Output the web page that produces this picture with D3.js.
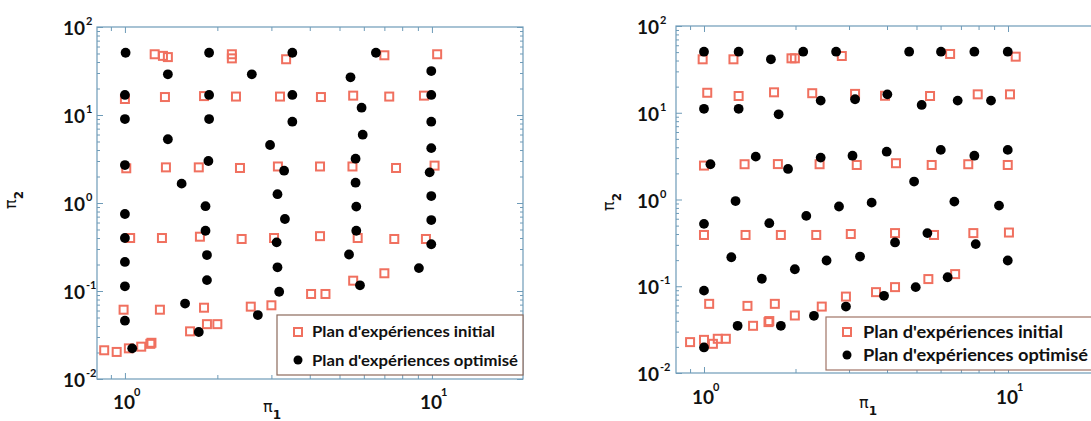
<!DOCTYPE html>
<html>
<head>
<meta charset="utf-8">
<script src="https://cdn.jsdelivr.net/npm/d3@7"></script>
<style>
  html, body { margin: 0; padding: 0; background: #fff; }
  svg { display: block; }
</style>
</head>
<body>
<script>
// ---------------- DATA ----------------
const xMajorTicks = [1, 10];
const yMajorTicks = [0.01, 0.1, 1, 10, 100];
const xTickExp = ["0", "1"];
const yTickExp = ["-2", "-1", "0", "1", "2"];
const legendLabels = ["Plan d'expériences initial", "Plan d'expériences optimisé"];
const axisLabelX = ["π", "1"];
const axisLabelY = ["π", "2"];

// left panel – initial design (squares)
const leftInitial = [
  [1.25,49],[1.33,47],[1.38,45.5],[2.23,49],[2.23,44],[3.35,43],[7.0,47.7],[10.4,49],
  [1.0,15.2],[1.35,16],[1.81,16.4],[2.30,16.2],[3.2,16.2],[4.35,16],[5.54,16.6],[7.26,16.2],[9.42,16.6],
  [1.01,2.48],[1.36,2.54],[1.74,2.54],[2.37,2.5],[3.15,2.6],[4.32,2.6],[5.51,2.6],[7.64,2.5],[10.2,2.66],
  [1.04,0.40],[1.32,0.40],[1.755,0.414],[2.4,0.39],[3.06,0.40],[4.32,0.42],[5.73,0.40],[7.54,0.39],[9.56,0.39],
  [0.99,0.0613],[1.30,0.0613],[1.81,0.0646],[2.57,0.0664],[3.0,0.0688],[4.04,0.0925],[4.5,0.0925],[5.54,0.131],[7.0,0.159],
  [1.63,0.0348],[1.85,0.042],[2.0,0.042],
  [0.856,0.0212],[0.94,0.0203],[1.03,0.0223],[1.13,0.0233],[1.22,0.0258],[1.21,0.0251]
];
// left panel – optimised design (dots)
const leftOptim = [
  [1.005,51],[1.38,29],[1.88,51],[2.59,29],[3.51,51],[6.57,51],[9.95,31.6],[5.43,26.8],
  [1.0,16.9],[1.88,16.9],[3.51,16.9],[9.95,16.9],[5.90,12.1],
  [1.0,9.0],[1.88,9.0],[3.51,8.4],[9.95,8.4],[1.38,5.3],[2.97,4.56],[5.95,5.97],[9.95,4.2],
  [1.0,2.7],[1.87,3.0],[3.30,2.33],[5.64,3.19],[9.83,2.23],
  [1.53,1.66],[3.14,1.26],[5.64,1.70],[9.95,1.2],
  [1.83,0.92],[5.67,0.91],[1.0,0.75],[3.32,0.658],[9.95,0.64],[1.83,0.484],[5.67,0.484],
  [1.0,0.40],[3.12,0.357],[9.95,0.34],[1.85,0.256],[5.37,0.26],[1.0,0.214],[3.14,0.186],[9.07,0.182],
  [1.85,0.133],[5.83,0.116],[1.0,0.113],[3.18,0.098],[1.57,0.072],
  [1.0,0.046],[2.71,0.0533],[1.74,0.0342],[1.056,0.0223]
];
// right panel – initial design (squares)
const rightInitial = [
  [0.99,41.3],[1.25,41.3],[1.94,42.4],[1.99,42.4],[2.84,45.1],[6.45,47.6],[10.6,44.3],
  [1.025,17.0],[1.30,15.6],[1.70,17.2],[2.27,16.8],[3.14,16.5],[3.94,15.7],[5.54,15.6],[7.95,16.3],[10.15,16.3],
  [1.0,2.46],[1.36,2.55],[1.75,2.56],[2.40,2.55],[3.18,2.5],[4.28,2.62],[5.61,2.5],[7.4,2.55],[9.98,2.5],
  [1.0,0.39],[1.37,0.39],[1.79,0.39],[2.34,0.39],[3.04,0.40],[4.25,0.41],[5.71,0.39],[7.69,0.41],[10.07,0.416],
  [1.04,0.0627],[1.39,0.0594],[1.71,0.0627],[2.44,0.0583],[1.99,0.046],[1.45,0.035],[1.63,0.0386],[1.64,0.0397],
  [0.90,0.0227],[1.0,0.0241],[1.07,0.0217],[1.11,0.0248],[1.18,0.0248],
  [2.93,0.076],[3.68,0.0855],[4.25,0.0977],[5.47,0.121],[6.7,0.138]
];
// right panel – optimised design (dots)
const rightOptim = [
  [1.0,50.6],[1.30,50.6],[1.66,41.3],[2.12,50.6],[2.72,50.6],[4.73,50.6],[6.02,50.6],[7.75,50.6],[9.98,50.6],
  [1.0,11.1],[1.30,11.1],[1.76,9.6],[2.42,13.8],[3.14,14.3],[4.01,16.3],[5.2,12.3],[6.83,13.8],[8.79,13.8],
  [1.05,2.55],[1.48,3.12],[1.89,2.25],[2.42,3.04],[3.08,3.2],[3.99,3.56],[6.01,3.73],[7.75,3.2],[9.98,3.73],
  [4.91,1.61],[1.27,0.96],[2.78,0.83],[3.56,0.92],[6.66,0.946],[9.34,0.85],
  [1.0,0.524],[1.64,0.533],[2.17,0.647],[4.25,0.32],[5.43,0.41],[7.83,0.306],
  [1.23,0.216],[2.53,0.198],[3.26,0.22],[9.98,0.198],
  [1.55,0.122],[1.99,0.157],[6.33,0.127],[1.0,0.089],[4.97,0.0977],[3.91,0.0776],[2.93,0.0583],
  [1.29,0.035],[1.79,0.035],[2.30,0.0456],[1.0,0.0197]
];

// ---------------- STYLE / LAYOUT ----------------
const W = 1091, H = 421;
const frameColor = "#6e9bb8";
const squareColor = "#f0705f";
const dotColor = "#000000";
const font = "Lato, 'Open Sans', 'DejaVu Sans', sans-serif";

const panels = [
  { box: [97, 523, 27, 379], xDom: [0.811, 19.8], init: leftInitial, opt: leftOptim,
    yLabelRight: 85, xLabelBase: 409,
    piX: [272, 412], piY: [16, 200],
    legend: { x0: 277, x1: 523, y0: 315, y1: 375, mx: 298, my: [332, 360], tx: 312, ty: [337, 366], tl: [183, 206], fs: 16, stroke: "#8c6a5c" } },
  { box: [676, 1100, 26, 373], xDom: [0.809, 20.07], init: rightInitial, opt: rightOptim,
    yLabelRight: 659, xLabelBase: 404,
    piX: [868, 408], piY: [614, 202],
    legend: { x0: 826, x1: 1100, y0: 317, y1: 370, mx: 847, my: [332, 355], tx: 863, ty: [338, 361], tl: [200, 225], fs: 17, stroke: "#a07466" } }
];

const svg = d3.select("body").append("svg")
  .attr("width", W).attr("height", H)
  .attr("viewBox", `0 0 ${W} ${H}`);

function minorTicks(lo, hi) {
  const out = [];
  for (let e = -3; e <= 2; e++) {
    for (let m = 1; m <= 9; m++) {
      const v = m * Math.pow(10, e);
      if (v >= lo * 0.999 && v <= hi * 1.001) out.push(v);
    }
  }
  return out;
}

panels.forEach(p => {
  const [x0, x1, y0, y1] = p.box;
  const x = d3.scaleLog().domain(p.xDom).range([x0, x1]);
  const y = d3.scaleLog().domain([0.01, 100]).range([y1, y0]);
  const g = svg.append("g");

  const xT = minorTicks(p.xDom[0], p.xDom[1]).filter(v => v < p.xDom[1]);
  const yT = minorTicks(0.01, 100);
  const isMajor = v => Math.abs(Math.log10(v) - Math.round(Math.log10(v))) < 1e-9;

  const styleAxis = (sel) => {
    sel.select(".domain").remove();
    sel.selectAll(".tick line").attr("stroke", frameColor).attr("stroke-width", 1);
    sel.selectAll(".tick text").remove();
  };

  // inward ticks on all four sides
  g.append("g").attr("transform", `translate(0,${y1})`)
    .call(d3.axisBottom(x).tickValues(xT).tickSizeInner(-5).tickSizeOuter(0).tickFormat(""))
    .call(styleAxis)
    .selectAll(".tick line").attr("y2", d => isMajor(d) ? -6 : -4);
  g.append("g").attr("transform", `translate(0,${y0})`)
    .call(d3.axisTop(x).tickValues(xT).tickSizeInner(-5).tickSizeOuter(0).tickFormat(""))
    .call(styleAxis)
    .selectAll(".tick line").attr("y2", d => isMajor(d) ? 6 : 4);
  g.append("g").attr("transform", `translate(${x0},0)`)
    .call(d3.axisLeft(y).tickValues(yT).tickSizeInner(-4).tickSizeOuter(0).tickFormat(""))
    .call(styleAxis)
    .selectAll(".tick line").attr("x2", d => isMajor(d) ? 6 : 3);
  g.append("g").attr("transform", `translate(${x1},0)`)
    .call(d3.axisRight(y).tickValues(yT).tickSizeInner(-4).tickSizeOuter(0).tickFormat(""))
    .call(styleAxis)
    .selectAll(".tick line").attr("x2", d => isMajor(d) ? -6 : -3);

  // frame
  g.append("rect").attr("x", x0).attr("y", y0)
    .attr("width", x1 - x0).attr("height", y1 - y0)
    .attr("fill", "none").attr("stroke", frameColor).attr("stroke-width", 1.2);

  const labelText = (px, py, anchor, size) => g.append("text")
    .attr("x", px).attr("y", py).attr("text-anchor", anchor)
    .attr("font-family", font).attr("font-weight", "bold")
    .attr("font-size", size).attr("fill", "#111");

  // y tick labels: "10" ends at yLabelRight, exponent to its right
  yMajorTicks.forEach((v, i) => {
    labelText(p.yLabelRight, y(v) + 8, "end", 19).text("10");
    labelText(p.yLabelRight + 1, y(v) - 2, "start", 11).text(yTickExp[i]);
  });
  // x tick labels
  xMajorTicks.forEach((v, i) => {
    labelText(x(v) - 12, p.xLabelBase, "start", 19).text("10");
    labelText(x(v) + 9, p.xLabelBase - 13, "start", 11).text(xTickExp[i]);
  });

  // axis labels
  const tx = g.append("text").attr("x", p.piX[0]).attr("y", p.piX[1])
    .attr("text-anchor", "middle")
    .attr("font-family", "'DejaVu Sans', sans-serif").attr("font-size", 16).attr("fill", "#111");
  tx.append("tspan").text(axisLabelX[0]);
  tx.append("tspan").attr("font-size", 12).attr("font-weight", "bold").attr("dy", 7).text(axisLabelX[1]);

  const ty = g.append("text")
    .attr("transform", `translate(${p.piY[0]},${p.piY[1]}) rotate(-90)`)
    .attr("text-anchor", "middle")
    .attr("font-family", "'DejaVu Sans', sans-serif").attr("font-size", 16).attr("fill", "#111");
  ty.append("tspan").text(axisLabelY[0]);
  ty.append("tspan").attr("font-size", 12).attr("font-weight", "bold").attr("dy", 7).text(axisLabelY[1]);

  // data marks
  const s = 8;
  g.append("g").selectAll("rect").data(p.init).join("rect")
    .attr("x", d => x(d[0]) - s / 2).attr("y", d => y(d[1]) - s / 2)
    .attr("width", s).attr("height", s)
    .attr("fill", "none")
    .attr("stroke", squareColor).attr("stroke-width", 2);
  g.append("g").selectAll("circle").data(p.opt).join("circle")
    .attr("cx", d => x(d[0])).attr("cy", d => y(d[1]))
    .attr("r", 4.9).attr("fill", dotColor);

  // legend
  const L = p.legend;
  g.append("rect").attr("x", L.x0).attr("y", L.y0)
    .attr("width", L.x1 - L.x0).attr("height", L.y1 - L.y0)
    .attr("fill", "#fff").attr("stroke", L.stroke).attr("stroke-width", 1.2);
  g.append("rect").attr("x", L.mx - 4).attr("y", L.my[0] - 4)
    .attr("width", 8).attr("height", 8)
    .attr("fill", "none").attr("stroke", squareColor).attr("stroke-width", 2);
  g.append("circle").attr("cx", L.mx).attr("cy", L.my[1]).attr("r", 4.5).attr("fill", dotColor);
  legendLabels.forEach((lab, i) => {
    g.append("text").attr("x", L.tx).attr("y", L.ty[i])
      .attr("font-family", font).attr("font-weight", "bold")
      .attr("font-size", L.fs).attr("fill", "#111")
      .attr("textLength", L.tl[i]).attr("lengthAdjust", "spacingAndGlyphs")
      .text(lab);
  });
});
</script>
</body>
</html>
